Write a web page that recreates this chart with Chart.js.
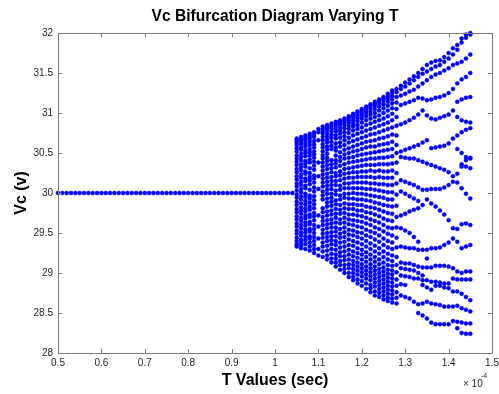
<!DOCTYPE html>
<html>
<head>
<meta charset="utf-8">
<script src="https://cdn.jsdelivr.net/npm/chart.js@4/dist/chart.umd.min.js"></script>
<style>
  html, body { margin: 0; padding: 0; background: #ffffff; }
  canvas { display: block; }
</style>
</head>
<body>
<canvas id="chart" width="499" height="394" style="width:499px;height:394px"></canvas>
<script>
// Period-1 region: Vc sits on its fixed point for every T below the bifurcation
const tStable = [0.50, 0.51, 0.52, 0.53, 0.54, 0.55, 0.56, 0.57, 0.58, 0.59,
                 0.60, 0.61, 0.62, 0.63, 0.64, 0.65, 0.66, 0.67, 0.68, 0.69,
                 0.70, 0.71, 0.72, 0.73, 0.74, 0.75, 0.76, 0.77, 0.78, 0.79,
                 0.80, 0.81, 0.82, 0.83, 0.84, 0.85, 0.86, 0.87, 0.88, 0.89,
                 0.90, 0.91, 0.92, 0.93, 0.94, 0.95, 0.96, 0.97, 0.98, 0.99,
                 1.00, 1.01, 1.02, 1.03, 1.04];
const fixedPointVc = 30;

// Quasi-periodic band: sampled Vc values for each T column (T in units of 1e-4 s)
const tDense = [1.05, 1.06, 1.07, 1.08, 1.09, 1.10, 1.11, 1.12, 1.13, 1.14, 1.15, 1.16,
                1.17, 1.18, 1.19, 1.20, 1.21, 1.22, 1.23, 1.24, 1.25, 1.26, 1.27, 1.28];
const vcDense = [
  [30.68, 30.66, 30.63, 30.60, 30.56, 30.52, 30.47, 30.43, 30.39, 30.35, 30.30, 30.26, 30.21, 30.17, 30.12, 30.08, 30.03, 29.98, 29.94, 29.89, 29.85, 29.80, 29.76, 29.71, 29.67, 29.62, 29.58, 29.53, 29.49, 29.44, 29.40, 29.36, 29.33],
  [30.70, 30.67, 30.64, 30.61, 30.57, 30.54, 30.49, 30.45, 30.41, 30.36, 30.32, 30.28, 30.23, 30.19, 30.14, 30.10, 30.05, 30.01, 29.96, 29.92, 29.87, 29.82, 29.78, 29.74, 29.69, 29.65, 29.60, 29.56, 29.51, 29.47, 29.42, 29.38, 29.34, 29.31],
  [30.72, 30.69, 30.66, 30.62, 30.58, 30.53, 30.50, 30.46, 30.40, 30.37, 30.33, 30.27, 30.24, 30.18, 30.15, 30.09, 30.06, 29.99, 29.95, 29.90, 29.86, 29.81, 29.77, 29.72, 29.68, 29.63, 29.59, 29.54, 29.50, 29.45, 29.41, 29.36, 29.30],
  [30.74, 30.71, 30.68, 30.64, 30.60, 30.55, 30.51, 30.47, 30.42, 30.38, 30.31, 30.25, 30.20, 30.16, 30.11, 30.04, 29.97, 29.93, 29.88, 29.83, 29.79, 29.73, 29.70, 29.64, 29.61, 29.55, 29.52, 29.46, 29.43, 29.38, 29.33, 29.28],
  [30.76, 30.73, 30.70, 30.65, 30.61, 30.57, 30.52, 30.48, 30.44, 30.39, 30.34, 30.29, 30.22, 30.18, 30.13, 30.07, 30.02, 29.96, 29.91, 29.86, 29.81, 29.75, 29.71, 29.66, 29.60, 29.55, 29.50, 29.45, 29.40, 29.35, 29.30, 29.25],
  [30.80, 30.76, 30.66, 30.38, 30.21, 30.05, 29.72, 29.58, 29.43, 29.30, 29.22],
  [30.83, 30.80, 30.77, 30.74, 30.70, 30.66, 30.61, 30.57, 30.52, 30.47, 30.43, 30.38, 30.33, 30.28, 30.23, 30.18, 30.13, 30.08, 30.02, 29.97, 29.92, 29.81, 29.76, 29.70, 29.65, 29.60, 29.54, 29.49, 29.44, 29.38, 29.33, 29.27, 29.20],
  [30.85, 30.82, 30.79, 30.75, 30.71, 30.67, 30.63, 30.58, 30.54, 30.49, 30.44, 30.40, 30.35, 30.30, 30.24, 30.19, 30.14, 30.09, 30.04, 29.99, 29.93, 29.88, 29.83, 29.77, 29.72, 29.66, 29.61, 29.56, 29.50, 29.45, 29.40, 29.34, 29.28, 29.22, 29.17],
  [30.87, 30.84, 30.81, 30.77, 30.73, 30.69, 30.64, 30.59, 30.55, 30.41, 30.36, 30.31, 30.26, 30.20, 30.15, 30.10, 30.05, 29.99, 29.94, 29.89, 29.84, 29.78, 29.73, 29.67, 29.62, 29.57, 29.51, 29.46, 29.41, 29.36, 29.30, 29.24, 29.18, 29.13],
  [30.89, 30.87, 30.84, 30.80, 30.77, 30.72, 30.68, 30.62, 30.57, 30.53, 30.47, 30.41, 30.37, 30.32, 30.25, 30.21, 30.15, 30.10, 30.03, 29.98, 29.91, 29.86, 29.80, 29.74, 29.69, 29.63, 29.57, 29.52, 29.46, 29.40, 29.35, 29.29, 29.23, 29.18, 29.13, 29.08],
  [30.91, 30.89, 30.86, 30.82, 30.78, 30.74, 30.69, 30.63, 30.58, 30.51, 30.45, 30.40, 30.34, 30.27, 30.22, 30.16, 30.09, 30.04, 29.97, 29.92, 29.85, 29.79, 29.74, 29.67, 29.62, 29.55, 29.49, 29.44, 29.38, 29.32, 29.26, 29.21, 29.15, 29.10, 29.04],
  [30.93, 30.91, 30.88, 30.85, 30.81, 30.76, 30.71, 30.66, 30.60, 30.54, 30.48, 30.43, 30.36, 30.30, 30.24, 30.18, 30.12, 30.06, 29.99, 29.94, 29.87, 29.81, 29.75, 29.69, 29.63, 29.57, 29.51, 29.45, 29.39, 29.33, 29.27, 29.21, 29.16, 29.10, 29.05, 29.00],
  [30.96, 30.94, 30.91, 30.88, 30.84, 30.80, 30.75, 30.69, 30.63, 30.56, 30.50, 30.44, 30.38, 30.31, 30.25, 30.19, 30.12, 30.06, 29.99, 29.93, 29.86, 29.80, 29.73, 29.67, 29.61, 29.54, 29.48, 29.42, 29.35, 29.29, 29.23, 29.17, 29.11, 29.06, 29.00, 28.95],
  [30.99, 30.97, 30.94, 30.91, 30.87, 30.83, 30.78, 30.72, 30.65, 30.58, 30.52, 30.45, 30.39, 30.32, 30.26, 30.19, 30.13, 30.06, 30.00, 29.93, 29.86, 29.80, 29.73, 29.66, 29.60, 29.53, 29.47, 29.40, 29.34, 29.27, 29.21, 29.15, 29.10, 29.05, 29.00, 28.95, 28.91],
  [31.02, 31.00, 30.97, 30.94, 30.90, 30.85, 30.80, 30.74, 30.67, 30.60, 30.53, 30.47, 30.40, 30.33, 30.26, 30.20, 30.13, 30.06, 29.99, 29.92, 29.85, 29.78, 29.72, 29.65, 29.58, 29.51, 29.45, 29.38, 29.31, 29.25, 29.19, 29.13, 29.08, 29.03, 28.98, 28.92, 28.87],
  [31.05, 31.03, 31.00, 30.97, 30.93, 30.88, 30.82, 30.76, 30.69, 30.62, 30.55, 30.48, 30.41, 30.34, 30.27, 30.20, 30.13, 30.06, 29.99, 29.92, 29.85, 29.78, 29.71, 29.64, 29.57, 29.50, 29.43, 29.36, 29.29, 29.23, 29.17, 29.11, 29.06, 29.01, 28.96, 28.90, 28.84],
  [31.08, 31.06, 31.03, 31.00, 30.96, 30.91, 30.85, 30.78, 30.71, 30.64, 30.57, 30.49, 30.42, 30.35, 30.27, 30.20, 30.13, 30.05, 29.98, 29.91, 29.83, 29.76, 29.69, 29.62, 29.54, 29.47, 29.40, 29.33, 29.26, 29.20, 29.14, 29.08, 29.03, 28.98, 28.93, 28.87, 28.80],
  [31.11, 31.09, 31.06, 31.02, 30.98, 30.93, 30.87, 30.80, 30.73, 30.65, 30.58, 30.50, 30.43, 30.35, 30.28, 30.20, 30.12, 30.05, 29.97, 29.90, 29.82, 29.75, 29.67, 29.60, 29.52, 29.45, 29.37, 29.30, 29.23, 29.17, 29.11, 29.06, 29.01, 28.96, 28.91, 28.85, 28.81, 28.76],
  [31.14, 31.12, 31.09, 31.05, 31.00, 30.95, 30.89, 30.82, 30.74, 30.66, 30.58, 30.51, 30.43, 30.35, 30.27, 30.19, 30.12, 30.04, 29.96, 29.88, 29.81, 29.73, 29.65, 29.57, 29.50, 29.42, 29.34, 29.27, 29.20, 29.14, 29.08, 29.03, 28.98, 28.93, 28.88, 28.83, 28.77, 28.72],
  [31.17, 31.15, 31.12, 31.08, 31.03, 30.97, 30.91, 30.84, 30.76, 30.68, 30.60, 30.52, 30.44, 30.36, 30.28, 30.20, 30.11, 30.03, 29.95, 29.87, 29.79, 29.71, 29.63, 29.55, 29.47, 29.39, 29.31, 29.24, 29.17, 29.11, 29.05, 29.00, 28.95, 28.90, 28.85, 28.80, 28.75, 28.70],
  [31.20, 31.18, 31.15, 31.11, 31.06, 31.00, 30.93, 30.86, 30.78, 30.69, 30.61, 30.53, 30.44, 30.36, 30.27, 30.19, 30.11, 30.02, 29.94, 29.85, 29.77, 29.68, 29.60, 29.52, 29.43, 29.35, 29.27, 29.20, 29.13, 29.07, 29.02, 28.97, 28.92, 28.87, 28.82, 28.77, 28.72, 28.67],
  [31.24, 31.21, 31.18, 31.14, 31.09, 31.03, 30.96, 30.88, 30.80, 30.71, 30.62, 30.54, 30.45, 30.36, 30.27, 30.19, 30.10, 30.01, 29.92, 29.84, 29.75, 29.66, 29.57, 29.49, 29.40, 29.32, 29.24, 29.17, 29.10, 29.04, 28.99, 28.94, 28.89, 28.84, 28.79, 28.74, 28.69, 28.65],
  [31.28, 31.25, 31.21, 31.17, 31.12, 31.06, 30.99, 30.91, 30.82, 30.73, 30.64, 30.55, 30.46, 30.37, 30.28, 30.19, 30.10, 30.01, 29.92, 29.83, 29.74, 29.65, 29.56, 29.47, 29.38, 29.30, 29.22, 29.15, 29.09, 29.03, 28.98, 28.93, 28.88, 28.83, 28.78, 28.73, 28.68, 28.63],
  [31.30, 31.26, 31.20, 31.13, 31.05, 30.95, 30.84, 30.72, 30.60, 30.50, 30.38, 30.25, 30.12, 29.98, 29.84, 29.70, 29.57, 29.44, 29.32, 29.20, 29.10, 29.01, 28.92, 28.84, 28.76, 28.69, 28.62]
];

// Periodic branches beyond T = 1.28: one Vc per column, null where a branch is absent
const tBranch = [1.29, 1.30, 1.31, 1.32, 1.33, 1.34, 1.35, 1.36, 1.37, 1.38, 1.39, 1.40, 1.41, 1.42, 1.43, 1.44, 1.45];
const vcBranches = [
  [31.34, 31.38, 31.42, 31.46, 31.50, 31.55, 31.60, 31.63, 31.65, 31.66, 31.70, 31.75, 31.81, 31.85, 31.93, 31.98, 32.00],
  [31.30, 31.33, 31.37, 31.41, 31.45, 31.49, 31.52, 31.55, 31.58, 31.60, 31.64, 31.68, 31.73, 31.79, 31.88, 31.94, 31.98],
  [31.22, 31.24, 31.27, 31.29, 31.33, 31.37, 31.41, 31.45, 31.48, 31.50, 31.53, 31.56, 31.60, 31.62, 31.64, 31.68, 31.73],
  [31.10, 31.12, 31.14, 31.16, 31.19, 31.18, 31.16, 31.17, 31.19, 31.20, 31.22, 31.25, 31.30, 31.37, 31.42, 31.45, 31.50],
  [30.86, 30.88, 30.91, 30.94, 30.98, 31.03, 30.97, 30.93, 30.92, 30.94, 30.96, 30.98, 31.03, 31.14, 31.17, 31.19, 31.20],
  [null, null, null, null, null, null, null, null, null, null, null, null, null, 30.95, 30.91, 30.89, 30.88],
  [30.52, 30.54, 30.56, 30.58, 30.60, 30.63, 30.66, 30.56, 30.57, 30.58, 30.59, 30.62, 30.68, 30.72, 30.76, 30.79, 30.81],
  [null, null, null, null, null, null, null, null, null, null, null, null, null, 30.55, 30.50, 30.45, 30.43],
  [30.45, 30.44, 30.43, 30.43, 30.41, 30.39, 30.37, 30.35, 30.33, 30.31, 30.29, 30.26, 30.21, 30.13, 30.06, 29.99, 29.93],
  [30.16, 30.14, 30.12, 30.10, 30.07, 30.04, 30.04, 30.05, 30.05, 30.05, 30.07, 30.10, 30.14, 30.24, 30.33, 30.41, 30.44],
  [null, null, null, null, null, null, null, null, null, null, null, null, null, null, 30.36, 30.33, 30.31],
  [30.02, 29.99, 29.96, 29.93, 29.90, null, null, null, null, null, null, null, null, null, null, null, null],
  [29.72, 29.74, 29.77, 29.79, 29.81, 29.85, 29.92, 29.87, 29.83, 29.78, 29.73, 29.66, 29.56, 29.55, 29.61, 29.62, 29.60],
  [29.56, 29.53, 29.50, 29.45, 29.39, null, null, null, null, null, null, null, null, null, null, null, null],
  [29.33, 29.32, 29.31, 29.31, 29.29, 29.29, 29.29, 29.31, 29.31, 29.32, 29.35, 29.38, 29.43, 29.39, 29.31, 29.33, 29.35],
  [null, null, null, null, null, null, 29.18, null, null, null, null, null, null, null, null, null, null],
  [29.13, 29.12, 29.12, 29.10, 29.08, 29.07, 29.07, 29.07, 29.09, 29.09, 29.09, 29.08, 29.06, 29.02, 29.00, 29.02, 29.02],
  [29.06, 29.05, 29.04, 29.03, 29.00, 28.97, null, null, null, null, null, null, null, null, null, null, null],
  [28.97, 28.96, 28.95, 28.93, 28.93, 28.91, 28.91, 28.89, 28.89, 28.88, 28.87, 28.87, 28.93, 28.92, 28.92, 28.92, 28.92],
  [28.86, 28.85, null, null, null, 28.85, 28.82, 28.79, 28.84, 28.84, 28.82, 28.81, 28.77, 28.77, 28.74, 28.70, 28.66],
  [28.72, 28.70, 28.68, 28.64, 28.61, 28.62, 28.64, 28.62, 28.61, 28.60, 28.58, 28.58, 28.58, 28.59, 28.56, 28.54, 28.52],
  [null, null, null, null, 28.50, 28.47, 28.43, 28.38, 28.36, 28.36, 28.36, 28.36, 28.40, 28.39, 28.38, 28.37, 28.37],
  [null, null, null, null, null, null, null, null, null, null, null, null, null, 28.31, 28.25, 28.24, 28.24]
];

// Axis tick values
const xTicks = [0.5, 0.6, 0.7, 0.8, 0.9, 1.0, 1.1, 1.2, 1.3, 1.4, 1.5];
const yTicks = [28, 28.5, 29, 29.5, 30, 30.5, 31, 31.5, 32];

// Collect every sample as an {x, y} point
const points = [];
tStable.forEach(t => points.push({ x: t, y: fixedPointVc }));
tDense.forEach((t, i) => vcDense[i].forEach(v => points.push({ x: t, y: v })));
vcBranches.forEach(row => row.forEach((v, i) => {
  if (v !== null) points.push({ x: tBranch[i], y: v });
}));

const FONT = '"Liberation Sans", Arial, Helvetica, sans-serif';
const AXIS_COLOR = '#7a7a7a';

// Box, inward ticks, title and axis labels
const framePlugin = {
  id: 'frame',
  afterDraw(chart) {
    const { ctx, chartArea: a, scales } = chart;
    ctx.save();
    ctx.strokeStyle = AXIS_COLOR;
    ctx.lineWidth = 1;
    ctx.beginPath();
    ctx.rect(Math.round(a.left) + 0.5, Math.round(a.top) + 0.5,
             Math.round(a.right - a.left), Math.round(a.bottom - a.top));
    const len = 4;
    xTicks.forEach(v => {
      const px = Math.round(scales.x.getPixelForValue(v)) + 0.5;
      ctx.moveTo(px, a.bottom); ctx.lineTo(px, a.bottom - len);
      ctx.moveTo(px, a.top); ctx.lineTo(px, a.top + len);
    });
    yTicks.forEach(v => {
      const py = Math.round(scales.y.getPixelForValue(v)) + 0.5;
      ctx.moveTo(a.left, py); ctx.lineTo(a.left + len, py);
      ctx.moveTo(a.right, py); ctx.lineTo(a.right - len, py);
    });
    ctx.stroke();

    const cx = (a.left + a.right) / 2;
    ctx.fillStyle = '#000000';
    ctx.textAlign = 'center';
    ctx.textBaseline = 'middle';
    ctx.font = 'bold 15.6px ' + FONT;
    ctx.fillText('Vc Bifurcation Diagram Varying T', cx, 17);
    ctx.font = 'bold 16px ' + FONT;
    ctx.fillText('T Values (sec)', cx, 381);

    ctx.save();
    ctx.translate(22, (a.top + a.bottom) / 2);
    ctx.rotate(-Math.PI / 2);
    ctx.fillText('Vc (v)', 0, 0);
    ctx.restore();

    // exponent of the T axis
    ctx.fillStyle = '#262626';
    ctx.textAlign = 'left';
    ctx.textBaseline = 'alphabetic';
    ctx.font = '10px ' + FONT;
    ctx.fillText('\u00d7 10', 463, 387);
    ctx.font = '7px ' + FONT;
    ctx.fillText('-4', 481, 378);
    ctx.restore();
  }
};

new Chart(document.getElementById('chart'), {
  type: 'scatter',
  data: {
    datasets: [{
      data: points,
      pointStyle: 'circle',
      pointRadius: 2,
      pointHoverRadius: 2,
      pointBackgroundColor: '#0000ff',
      pointBorderColor: '#0000ff',
      pointBorderWidth: 0.5,
      clip: false
    }]
  },
  options: {
    responsive: false,
    animation: false,
    events: [],
    layout: { padding: { top: 33, right: 7, left: 0, bottom: 0 } },
    plugins: { legend: { display: false }, tooltip: { enabled: false }, title: { display: false } },
    scales: {
      x: {
        type: 'linear',
        min: 0.5,
        max: 1.5,
        afterBuildTicks(scale) { scale.ticks = xTicks.map(v => ({ value: v })); },
        afterFit(scale) { scale.height = 41; scale.paddingLeft = 0; scale.paddingRight = 0; },
        grid: { display: false, drawTicks: false },
        border: { display: false },
        ticks: {
          padding: 4,
          maxRotation: 0,
          autoSkip: false,
          color: '#262626',
          font: { size: 10, family: FONT },
          callback: v => String(Math.round(v * 10) / 10)
        }
      },
      y: {
        type: 'linear',
        min: 28,
        max: 32,
        afterBuildTicks(scale) { scale.ticks = yTicks.map(v => ({ value: v })); },
        afterFit(scale) { scale.width = 58; scale.paddingTop = 0; scale.paddingBottom = 0; },
        grid: { display: false, drawTicks: false },
        border: { display: false },
        ticks: {
          padding: 5,
          autoSkip: false,
          color: '#262626',
          font: { size: 10, family: FONT },
          callback: v => String(v)
        }
      }
    }
  },
  plugins: [framePlugin]
});
</script>
</body>
</html>
